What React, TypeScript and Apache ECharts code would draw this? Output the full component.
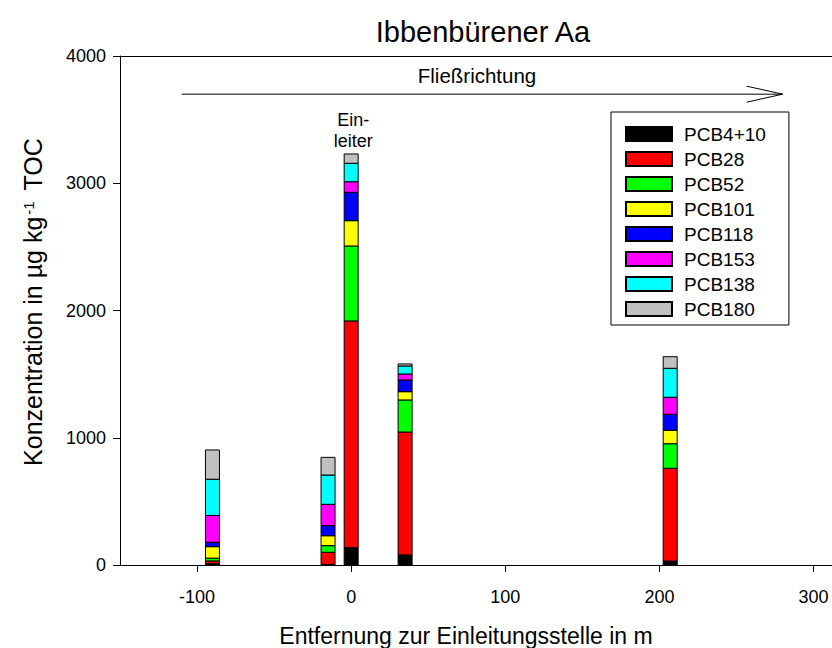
import React, { useEffect, useRef } from "react";
import * as echarts from "echarts";

const positions = [-90, -15, 0, 35, 207];
const seriesNames = ["PCB4+10", "PCB28", "PCB52", "PCB101", "PCB118", "PCB153", "PCB138", "PCB180"];
const pcb4_10 = [10, 5, 136, 79, 31];
const pcb28 = [22, 95, 1782, 966, 729];
const pcb52 = [22, 52, 589, 252, 193];
const pcb101 = [90, 78, 199, 65, 106];
const pcb118 = [35, 79, 223, 92, 125];
const pcb153 = [210, 168, 83, 47, 134];
const pcb138 = [285, 230, 145, 63, 228];
const pcb180 = [230, 139, 73, 16, 91];
const seriesValues = [pcb4_10, pcb28, pcb52, pcb101, pcb118, pcb153, pcb138, pcb180];
const seriesColors = ["#000000", "#ff0000", "#00ff00", "#ffff00", "#0000ff", "#ff00ff", "#00ffff", "#c0c0c0"];
const xTicks = [-100, 0, 100, 200, 300];

const FONT = "'Liberation Sans', Arial, sans-serif";
const BAR_WIDTH = 14;
const X_MIN = -150;
const X_MAX = 312;

export default function App() {
  const ref = useRef<HTMLDivElement>(null);
  useEffect(() => {
    if (!ref.current) return;
    const chart = echarts.init(ref.current, null, { renderer: "svg" });
    const cumulative = positions.map(() => 0);
    const series = seriesNames.map((name, k) => {
      const color = seriesColors[k];
      const data = positions.map((x, i) => {
        const base = cumulative[i];
        const top = base + seriesValues[k][i];
        cumulative[i] = top;
        return [x, base, top];
      });
      return {
        name,
        type: "custom",
        itemStyle: { color, borderColor: "#000", borderWidth: 1 },
        encode: { x: 0, y: [1, 2] },
        data,
        renderItem: (params: any, api: any) => {
          const p0 = api.coord([api.value(0), api.value(1)]);
          const p1 = api.coord([api.value(0), api.value(2)]);
          return {
            type: "rect",
            shape: { x: p0[0] - BAR_WIDTH / 2, y: p1[1], width: BAR_WIDTH, height: p0[1] - p1[1] },
            style: { fill: color, stroke: "#000", lineWidth: 1 },
          };
        },
      };
    });
    chart.setOption({
      animation: false,
      textStyle: { fontFamily: FONT, color: "#000" },
      title: {
        text: "Ibbenbürener Aa",
        left: 478,
        top: 12,
        textAlign: "center",
        textStyle: { fontFamily: FONT, fontSize: 29, fontWeight: "normal", color: "#000" },
      },
      grid: { left: 120, top: 56, right: 0, bottom: 83 },
      legend: {
        orient: "vertical",
        left: 611,
        top: 112,
        icon: "rect",
        itemWidth: 46,
        itemHeight: 14,
        itemGap: 5,
        padding: [12, 23, 6, 14],
        borderColor: "#000",
        borderWidth: 1,
        backgroundColor: "#fff",
        textStyle: { fontFamily: FONT, fontSize: 19, lineHeight: 20, color: "#000", padding: [0, 0, 0, 7] },
        data: seriesNames,
      },
      xAxis: [
        {
          type: "value",
          min: X_MIN,
          max: X_MAX,
          splitLine: { show: false },
          axisLine: { lineStyle: { color: "#000", width: 1 } },
          axisTick: { show: true, length: 7, customValues: xTicks, lineStyle: { color: "#000" } },
          axisLabel: { customValues: xTicks, fontSize: 18, margin: 23, color: "#000", fontFamily: FONT },
        },
        {
          type: "value",
          position: "top",
          min: X_MIN,
          max: X_MAX,
          splitLine: { show: false },
          axisLine: { show: true, onZero: false, lineStyle: { color: "#000", width: 1 } },
          axisTick: { show: false },
          axisLabel: { show: false },
        },
      ],
      yAxis: {
        type: "value",
        min: 0,
        max: 4000,
        interval: 1000,
        splitLine: { show: false },
        axisLine: { show: true, onZero: false, lineStyle: { color: "#000", width: 1 } },
        axisTick: { show: true, length: 7, lineStyle: { color: "#000" } },
        axisLabel: { fontSize: 18, margin: 14, color: "#000", fontFamily: FONT, formatter: (v: number) => String(v) },
      },
      series,
    });

    const a0 = chart.convertToPixel({ gridIndex: 0 }, [-110, 3700]) as number[];
    const a1 = chart.convertToPixel({ gridIndex: 0 }, [280, 3700]) as number[];
    const lbl = chart.convertToPixel({ gridIndex: 0 }, [0, 3415]) as number[];
    chart.setOption({
      graphic: [
        {
          type: "line",
          shape: { x1: a0[0], y1: a0[1], x2: a1[0], y2: a1[1] },
          style: { stroke: "#000", lineWidth: 1 },
        },
        {
          type: "polyline",
          shape: { points: [[a1[0] - 36, a1[1] - 8], [a1[0], a1[1]], [a1[0] - 36, a1[1] + 8]] },
          style: { stroke: "#000", lineWidth: 1, fill: "none" },
        },
        {
          type: "text",
          x: 477,
          y: 75,
          style: { text: "Fließrichtung", fontSize: 20.5, fontFamily: FONT, fill: "#000", align: "center", verticalAlign: "middle" },
        },
        {
          type: "text",
          x: lbl[0] + 2,
          y: lbl[1],
          style: { text: "Ein-\nleiter", fontSize: 18, lineHeight: 21, fontFamily: FONT, fill: "#000", align: "center", verticalAlign: "middle" },
        },
        {
          type: "text",
          x: 466,
          y: 636,
          style: { text: "Entfernung zur Einleitungsstelle in m", fontSize: 23, fontFamily: FONT, fill: "#000", align: "center", verticalAlign: "middle" },
        },
        {
          type: "text",
          x: 33,
          y: 302,
          rotation: Math.PI / 2,
          style: {
            text: "Konzentration in µg kg{sup|-1} TOC",
            fontSize: 25,
            fontFamily: FONT,
            fill: "#000",
            align: "center",
            verticalAlign: "middle",
            rich: {
              sup: { fontSize: 15, fontFamily: FONT, fill: "#000", verticalAlign: "top", padding: [0, 4, 10, 2] },
            },
          },
        },
      ],
    });
    return () => chart.dispose();
  }, []);
  return <div ref={ref} style={{ position: "absolute", left: 0, top: 0, width: 832, height: 648 }} />;
}
